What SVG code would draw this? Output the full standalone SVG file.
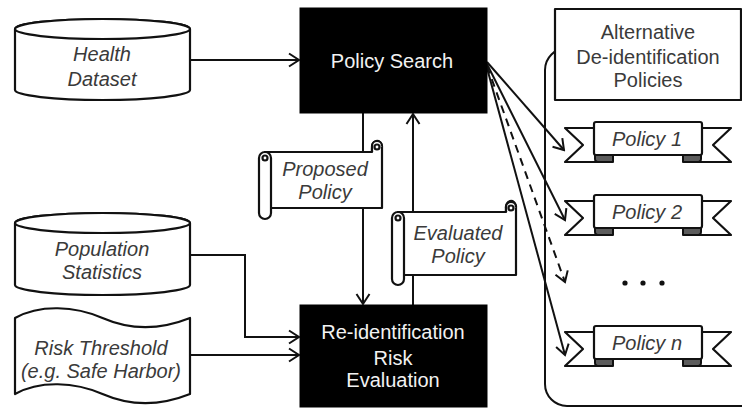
<svg xmlns="http://www.w3.org/2000/svg" width="742" height="409" viewBox="0 0 742 409">
  <style>
    .shape { fill: #ffffff; stroke: #111111; stroke-width: 2.2; stroke-linejoin: round; }
    .box { fill: #000000; stroke: #000000; stroke-width: 1; }
    .fold { fill: #5c5c5c; stroke: #111111; stroke-width: 2; stroke-linejoin: round; }
    .line { fill: none; stroke: #111111; stroke-width: 2; }
    .dash { stroke-dasharray: 8 6; }
    .lbl { font-family: "Liberation Sans", Arial, sans-serif; font-size: 20px; text-anchor: middle; fill: #3a3a3a; }
    .it { font-style: italic; }
    .inv { fill: #f2f2f2; }
  </style>
  <defs>
    <marker id="arrow" viewBox="-12 -8 14 16" refX="0" refY="0" markerWidth="14" markerHeight="16" markerUnits="userSpaceOnUse" orient="auto">
      <path d="M -10 -6.5 L 0 0 L -10 6.5" fill="none" stroke="#111111" stroke-width="2" stroke-linejoin="miter"/>
    </marker>
    <!-- ribbon banner used for each policy -->
    <g id="ribbon">
      <path class="shape" d="M 600 128 H 565 L 583 145 L 565 162 H 605 Z"/>
      <path class="shape" d="M 696 128 H 731 L 713 145 L 731 162 H 691 Z"/>
      <path class="fold" d="M 595 155 V 159 Q 595 162 599 162 H 613 V 155 Z"/>
      <path class="fold" d="M 701 155 V 159 Q 701 162 697 162 H 683 V 155 Z"/>
      <rect class="shape" x="594" y="122" width="108" height="33" rx="2"/>
    </g>
  </defs>

  <!-- container for the alternative policies -->
  <g id="policy-container">
    <path class="line" d="M 760 48 H 567 A 22 22 0 0 0 545 70 V 384 A 22 22 0 0 0 567 406 H 760"/>
  </g>

  <!-- connectors -->
  <g id="connectors">
    <line class="line" x1="190" y1="60" x2="299" y2="60" marker-end="url(#arrow)"/>
    <polyline class="line" points="190,255 245,255 245,337 299,337" marker-end="url(#arrow)"/>
    <line class="line" x1="190" y1="355" x2="299" y2="355" marker-end="url(#arrow)"/>
    <line class="line" x1="363" y1="113" x2="363" y2="304" marker-end="url(#arrow)"/>
    <line class="line" x1="413" y1="305" x2="413" y2="114" marker-end="url(#arrow)"/>
    <line class="line" x1="487" y1="62" x2="564" y2="150" marker-end="url(#arrow)"/>
    <line class="line" x1="487" y1="64" x2="565" y2="220" marker-end="url(#arrow)"/>
    <line class="line dash" x1="487" y1="66" x2="565" y2="282" marker-end="url(#arrow)"/>
    <line class="line" x1="487" y1="68" x2="565" y2="355" marker-end="url(#arrow)"/>
  </g>

  <g id="health-dataset">
    <path class="shape" d="M 15 29 V 90 A 87.5 10 0 0 0 190 90 V 29 A 87.5 10 0 0 0 15 29 Z"/>
    <ellipse class="shape" cx="102.5" cy="29" rx="87.5" ry="10"/>
    <text class="lbl it" x="102" y="61">Health</text>
    <text class="lbl it" x="102" y="86">Dataset</text>
  </g>

  <g id="population-statistics">
    <path class="shape" d="M 15 223 V 285 A 87.5 10 0 0 0 190 285 V 223 A 87.5 10 0 0 0 15 223 Z"/>
    <ellipse class="shape" cx="102.5" cy="223" rx="87.5" ry="10"/>
    <text class="lbl it" x="102" y="256">Population</text>
    <text class="lbl it" x="102" y="279">Statistics</text>
  </g>

  <g id="risk-threshold">
    <path class="shape" d="M 15 318 C 40 304, 75 306, 102.5 318 S 160 330, 190 318 V 394 C 160 406, 130 406, 102.5 394 C 75 382, 40 380, 15 394 Z"/>
    <text class="lbl it" x="101" y="355">Risk Threshold</text>
    <text class="lbl it" x="101" y="378">(e.g. Safe Harbor)</text>
  </g>

  <g id="policy-search">
    <rect class="box" x="300" y="8" width="187" height="105"/>
    <text class="lbl inv" x="392" y="68">Policy Search</text>
  </g>

  <g id="risk-evaluation">
    <rect class="box" x="300" y="305" width="187" height="102"/>
    <text class="lbl inv" x="393" y="339">Re-identification</text>
    <text class="lbl inv" x="393" y="365">Risk</text>
    <text class="lbl inv" x="393" y="387">Evaluation</text>
  </g>

  <g id="proposed-policy">
    <path class="shape" d="M 265 152 H 372 V 148 A 5 6 0 0 1 382 146 V 208 H 268 Z"/>
    <path class="shape" d="M 372 152 V 146 A 5 5 0 0 1 382 146"/>
    <circle class="shape" cx="377" cy="147" r="2.5"/>
    <rect class="shape" x="259" y="152" width="12" height="67" rx="6"/>
    <circle class="shape" cx="265" cy="158" r="2.5"/>
    <text class="lbl it" x="325" y="176">Proposed</text>
    <text class="lbl it" x="325" y="199">Policy</text>
  </g>

  <g id="evaluated-policy">
    <path class="shape" d="M 398 212 H 506 V 208 A 5 6 0 0 1 516 206 V 275 H 401 Z"/>
    <path class="shape" d="M 506 212 V 207 A 5 5 0 0 1 516 207"/>
    <circle class="shape" cx="511" cy="208" r="2.5"/>
    <rect class="shape" x="392" y="212" width="12" height="73" rx="6"/>
    <circle class="shape" cx="398" cy="218" r="2.5"/>
    <text class="lbl it" x="458" y="240">Evaluated</text>
    <text class="lbl it" x="458" y="263">Policy</text>
  </g>

  <g id="alternative-policies">
    <rect class="shape" x="555" y="9" width="186" height="91"/>
    <text class="lbl" x="648" y="39">Alternative</text>
    <text class="lbl" x="648" y="64">De-identification</text>
    <text class="lbl" x="648" y="87">Policies</text>
  </g>

  <g id="policy-1">
    <use href="#ribbon"/>
    <text class="lbl it" x="647" y="146">Policy 1</text>
  </g>

  <g id="policy-2" transform="translate(0,73)">
    <use href="#ribbon"/>
    <text class="lbl it" x="647" y="146">Policy 2</text>
  </g>

  <g id="ellipsis">
    <circle cx="625" cy="283" r="2.6" fill="#111111"/>
    <circle cx="643" cy="283" r="2.6" fill="#111111"/>
    <circle cx="662" cy="283" r="2.6" fill="#111111"/>
  </g>

  <g id="policy-n" transform="translate(0,204)">
    <use href="#ribbon"/>
    <text class="lbl it" x="647" y="146">Policy n</text>
  </g>
</svg>
